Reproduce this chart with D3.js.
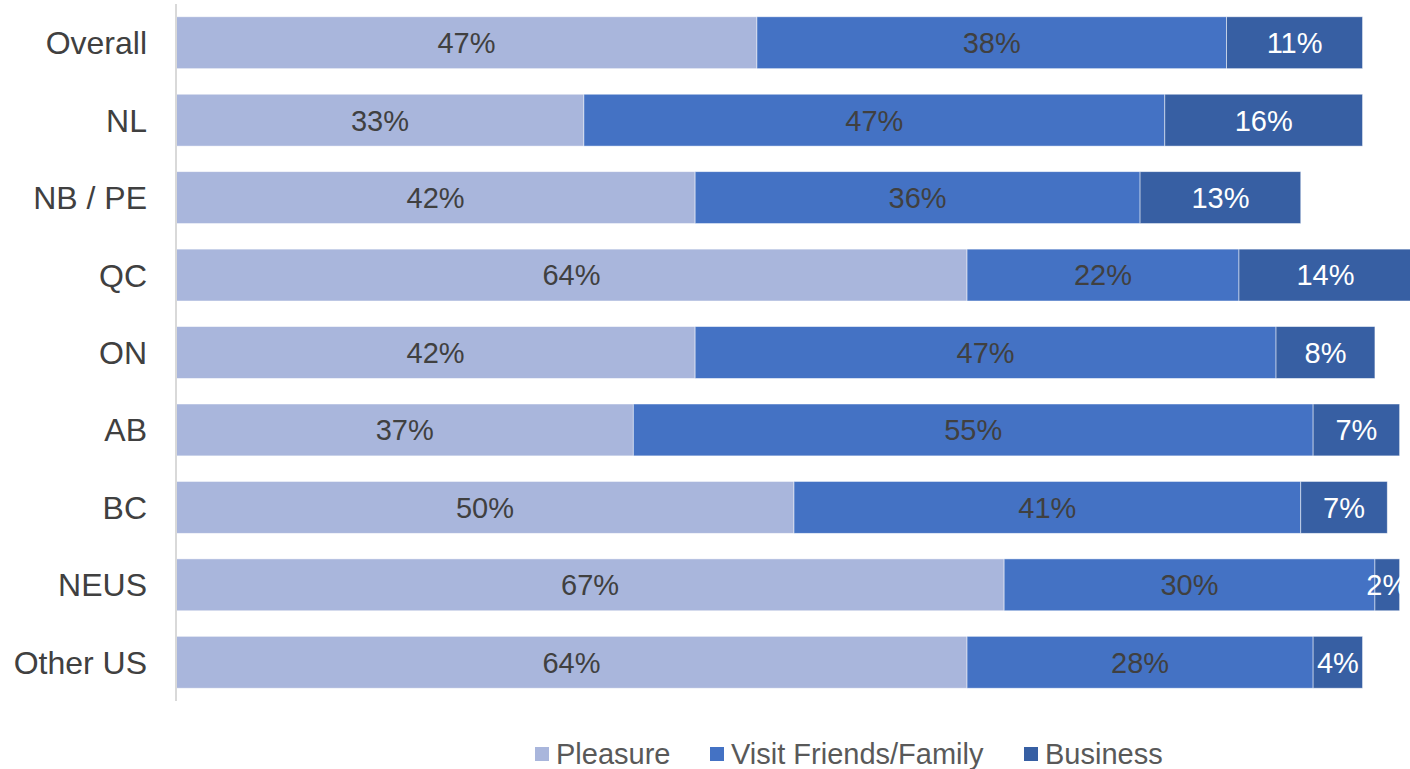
<!DOCTYPE html>
<html><head><meta charset="utf-8">
<script src="https://cdn.jsdelivr.net/npm/d3@7"></script>
<style>html,body{margin:0;padding:0;background:#fff;overflow:hidden}</style>
</head><body>
<svg id="c" width="1410" height="769"></svg>
<script>
const categories = ["Overall","NL","NB / PE","QC","ON","AB","BC","NEUS","Other US"];
const seriesNames = ["Pleasure","Visit Friends/Family","Business"];
const pleasure = [47,33,42,64,42,37,50,67,64];
const visit = [38,47,36,22,47,55,41,30,28];
const business = [11,16,13,14,8,7,7,2,4];
const colors = ["#A9B6DC","#4472C4","#375FA3"];
const labelColors = ["#404040","#404040","#ffffff"];

const svg = d3.select("#c");
const font = "'Liberation Sans', Arial, sans-serif";
const x = d3.scaleLinear().domain([0,100]).range([176,1412]);
const y = d3.scaleBand().domain(categories).range([4,701]).paddingInner(0.33).paddingOuter(0.165);

const rows = categories.map((c,i)=>({cat:c, vals:[pleasure[i],visit[i],business[i]]}));
const series = seriesNames.map((s,k)=>rows.map(r=>{
  const x0 = d3.sum(r.vals.slice(0,k));
  return {cat:r.cat, x0, x1:x0+r.vals[k], v:r.vals[k], k};
}));

const g = svg.append("g");
series.forEach((arr,k)=>{
  g.selectAll(null).data(arr).enter().append("rect")
    .attr("x",d=>x(d.x0)).attr("width",d=>x(d.x1)-x(d.x0))
    .attr("y",d=>y(d.cat)).attr("height",y.bandwidth())
    .attr("fill",colors[k]).attr("stroke","#ffffff").attr("stroke-width",0.8).attr("stroke-opacity",0.6);
});
series.forEach((arr,k)=>{
  g.selectAll(null).data(arr).enter().append("text")
    .attr("x",d=>(x(d.x0)+x(d.x1))/2).attr("y",d=>y(d.cat)+y.bandwidth()/2)
    .attr("dy","0.36em").attr("text-anchor","middle")
    .attr("font-family",font).attr("font-size",29).attr("fill",labelColors[k])
    .text(d=>d.v+"%");
});

// axis
const yAxis = d3.axisLeft(y).tickSize(0).tickPadding(29);
const ag = svg.append("g").attr("transform","translate(176,0)").call(yAxis);
ag.select(".domain").attr("stroke","#D9D9D9").attr("stroke-width",2).attr("d","M0,4V701");
ag.selectAll("text").attr("font-family",font).attr("font-size",32).attr("fill","#404040").attr("dy","0.36em");

// legend
const legX = [535,710,1024];
const lg = svg.append("g");
seriesNames.forEach((s,k)=>{
  lg.append("rect").attr("x",legX[k]).attr("y",747).attr("width",14).attr("height",14).attr("fill",colors[k]);
  lg.append("text").attr("x",legX[k]+21).attr("y",754).attr("dy","0.36em")
    .attr("font-family",font).attr("font-size",29).attr("fill","#595959").text(s);
});
</script>
</body></html>
